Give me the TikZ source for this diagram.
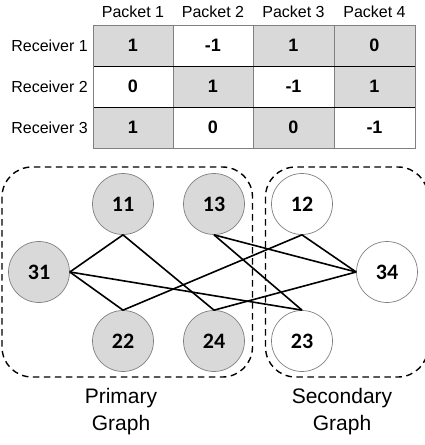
\documentclass[tikz,border=0pt]{standalone}
\usepackage{fontspec}
\setmainfont{Liberation Sans}
\newfontfamily\nodefont{Carlito}
\definecolor{cellgray}{HTML}{D9D9D9}
\definecolor{linegray}{HTML}{808080}
\begin{document}
\begin{tikzpicture}[x=1pt,y=-1pt,
  hdr/.style={font=\fontsize{16}{19}\selectfont, inner sep=0pt},
  cell/.style={minimum width=80.5pt, minimum height=41pt, inner sep=0pt, font=\fontsize{18}{21}\selectfont\bfseries},
  gcell/.style={cell, fill=cellgray},
  vert/.style={circle, minimum size=61pt, inner sep=0pt, draw=linegray, line width=0.7pt, font=\nodefont\fontsize{22}{26}\selectfont\bfseries},
  gvert/.style={vert, fill=cellgray},
  edge/.style={line width=1.6pt, black},
  group/.style={dashed, dash pattern=on 6.5pt off 4.5pt, line width=1.4pt, rounded corners=30pt},
  lbl/.style={font=\fontsize{21}{25}\selectfont, align=center, inner sep=0pt}]
\useasboundingbox (0,0) rectangle (425,445);
% headers
\node[hdr] (p1) at (133,12) {Packet 1};
\node[hdr] (p2) at (213,12) {Packet 2};
\node[hdr] (p3) at (293.5,12) {Packet 3};
\node[hdr] (p4) at (374.5,12) {Packet 4};
\node[hdr, anchor=east] (r1) at (88,45.5) {Receiver 1};
\node[hdr, anchor=east] (r2) at (88,86.5) {Receiver 2};
\node[hdr, anchor=east] (r3) at (88,127.5) {Receiver 3};
% cells
\node[gcell] (c11) at (133,45.5) {1};
\node[cell]  (c12) at (213,45.5) {-1};
\node[gcell] (c13) at (293.5,45.5) {1};
\node[gcell] (c14) at (374.5,45.5) {0};
\node[cell]  (c21) at (133,86.5) {0};
\node[gcell] (c22) at (213,86.5) {1};
\node[cell]  (c23) at (293.5,86.5) {-1};
\node[gcell] (c24) at (374.5,86.5) {1};
\node[gcell] (c31) at (133,127.5) {1};
\node[cell]  (c32) at (213,127.5) {0};
\node[gcell] (c33) at (293.5,127.5) {0};
\node[cell]  (c34) at (374.5,127.5) {-1};
% grid
\draw[linegray, line width=0.9pt] (173,25) -- (173,148) (253,25) -- (253,148) (334,25) -- (334,148);
\draw[black, line width=0.8pt] (93,66) -- (415,66) (93,107) -- (415,107);
\draw[linegray, line width=1pt] (93,25) rectangle (415,148);
% groups
\draw[group] (2,167) rectangle (252.5,377);
\draw[group] (265.5,167) rectangle (428,377);
% vertices
\node[gvert] (n11) at (123,204) {11};
\node[gvert] (n13) at (214,204) {13};
\node[vert]  (n12) at (302,204) {12};
\node[gvert] (n31) at (39,272) {31};
\node[vert]  (n34) at (387,272) {34};
\node[gvert] (n22) at (123,341) {22};
\node[gvert] (n24) at (214,341) {24};
\node[vert]  (n23) at (302,341) {23};
% edges
\draw[edge] (n11.south) -- (n31.east);
\draw[edge] (n11.south) -- (n24.north);
\draw[edge] (n31.east) -- (n22.north);
\draw[edge] (n31.east) -- (n23.north);
\draw[edge] (n13.south) -- (n34.west);
\draw[edge] (n13.south) -- (n23.north);
\draw[edge] (n12.south) -- (n22.north);
\draw[edge] (n12.south) -- (n34.west);
\draw[edge] (n34.west) -- (n24.north);
% labels
\node[lbl] (prim) at (121,412) {Primary\\[2pt]Graph};
\node[lbl] (sec) at (342,412) {Secondary\\[2pt]Graph};
\end{tikzpicture}
\end{document}
